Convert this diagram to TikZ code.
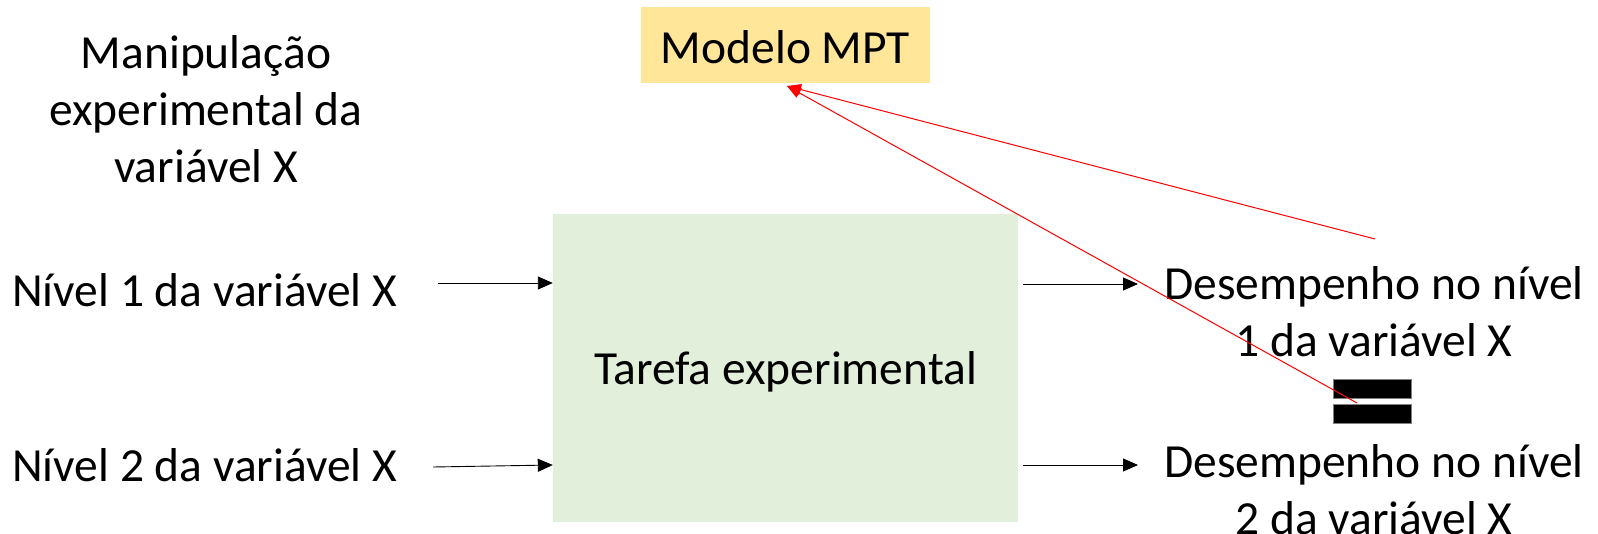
\documentclass[tikz,border=0pt]{standalone}
\usepackage{fontspec}
\setmainfont{Carlito}
\usetikzlibrary{arrows.meta}
\definecolor{boxgreen}{HTML}{E2EFDA}
\definecolor{boxyellow}{HTML}{FFE699}
\tikzset{
  txt/.style={inner sep=0pt, font=\fontsize{47.5}{57}\selectfont, align=center},
  blk/.style={draw=black, line width=0.9pt, -{Triangle[length=15pt,width=13pt]}},
  redarr/.style={draw=red, line width=1pt, -{Triangle[length=14pt,width=11pt]}},
  eqbar/.style={fill=black, draw=gray, line width=0.5pt}
}
\begin{document}
\begin{tikzpicture}[x=1pt,y=-1pt]
\useasboundingbox (0,0) rectangle (1598,534);
% boxes
\fill[boxyellow] (641,7) rectangle (930,83);
\node[txt] (mpt) at (785.5,47) {Modelo MPT};
\coordinate (mptS) at (787,86);
\fill[boxgreen] (553,214) rectangle (1018,522);
\node[inner sep=0pt, minimum width=465pt, minimum height=308pt] (task) at (785.5,368) {};
\node[txt] (tasklbl) at (785.5,372) {Tarefa experimental};
% left texts
\node[txt] (manip) at (206,109) {Manipulação\\experimental da\\variável X};
\node[txt, anchor=west] (n1) at (12,290) {Nível 1 da variável X};
\node[txt, anchor=west] (n2) at (12,465) {Nível 2 da variável X};
% right texts
\node[txt] (d1) at (1374,312) {Desempenho no nível\\1 da variável X};
\node[txt] (d2) at (1374,490) {Desempenho no nível\\2 da variável X};
% equals sign
\draw[eqbar] (1333,379) rectangle (1411,398);
\draw[eqbar] (1333,404) rectangle (1411,423);
% arrows
\coordinate (a1s) at (438,283);
\coordinate (a2s) at (433,467);
\coordinate (b1s) at (1023,284);
\coordinate (b2s) at (1023,465);
\coordinate (b1e) at (1138,284);
\coordinate (b2e) at (1138,465);
\draw[blk] (a1s) -- (task.west |- a1s);
\draw[blk] (a2s) -- ([yshift=2pt]task.west |- a2s);
\draw[blk] (b1s) -- (b1e);
\draw[blk] (b2s) -- (b2e);
% red lines
\coordinate (r1) at (1375,239);
\coordinate (r2) at (1357,403);
\draw[redarr] (r1) -- (mptS);
\draw[redarr] (r2) -- (mptS);
\end{tikzpicture}
\end{document}
